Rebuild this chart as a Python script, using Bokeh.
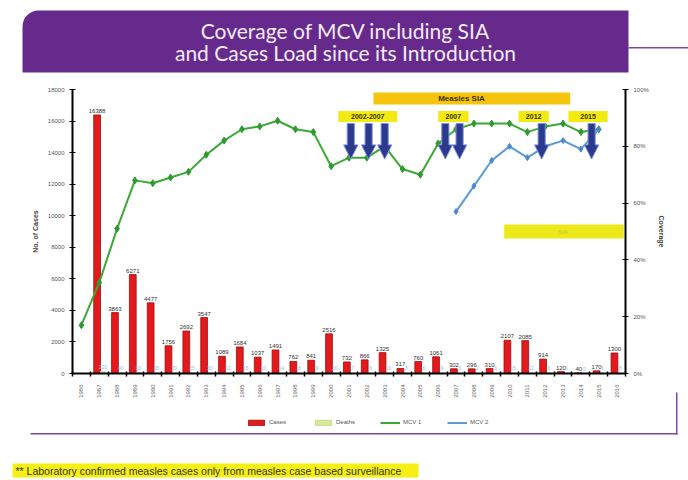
import math
from bokeh.plotting import figure
from bokeh.models import (ColumnDataSource, LinearAxis, Range1d, FixedTicker, Label,
                          BoxAnnotation, Legend, LegendItem, PrintfTickFormatter)
from bokeh.core.properties import value
from bokeh.embed import file_html
from bokeh.resources import INLINE

# ---------------- data ----------------
years = [str(y) for y in range(1986, 2017)]
cases = [None, 16388, 3863, 6271, 4477, 1756, 2692, 3547, 1089, 1684, 1037, 1491, 762, 841,
         2516, 732, 866, 1325, 317, 760, 1061, 302, 296, 310, 2107, 2085, 914, 120, 40, 170, 1300]
deaths = [None, 120, 40, 60, 45, 20, 25, 30, 12, 15, 10, 14, 8, 9, 20, 7, 8, 10, 3, 6, 9,
          3, 2, 3, 15, 12, 6, 1, 0, 1, 8]
mcv1 = [17, 32, 51, 68, 67, 69, 71, 77, 82, 86, 87, 89, 86, 85, 73, 76, 76, 80, 72, 70,
        81, 86, 88, 88, 88, 85, 87, 88, 85, 86, None]
mcv2 = [None] * 21 + [57, 66, 75, 80, 76, 80, 82, 79, 86, None]
cases_ticks = list(range(0, 18001, 2000))
cov_ticks = [0, 20, 40, 60, 80, 100]
CASES_MAX, COV_MAX = 18000, 100

# SIA campaign markers (arrows) and their labels
sia_arrow_years = [2001.1, 2002.1, 2003.0, 2006.4, 2007.2, 2011.8, 2014.6]
sia_labels = ["2002-2007", "2007", "2012", "2015"]
sia_label_from = [2000.4, 2006.0, 2010.5, 2013.3]
sia_label_to = [2003.7, 2007.7, 2012.2, 2015.5]

FONT = value("Liberation Sans")
base_year = int(years[0])
n = len(years)
idx = list(range(n))
nan = float("nan")


def clean(v):
    return [nan if a is None else a for a in v]


# ---------------- geometry (canvas px) ----------------
W, H = 688, 480
PL, PR, PT, PB = 72, 625, 89, 373      # chart plotting box inside the slide
xu = (PR - PL) / n                     # px per category
x_start = -0.5 - PL / xu
x_end = n - 0.5 + (W - PR) / xu
cpp = CASES_MAX / (PB - PT)            # cases per px
vpp = COV_MAX / (PB - PT)              # coverage per px

p = figure(width=W, height=H, output_backend="svg", toolbar_location=None,
           x_range=Range1d(x_start, x_end),
           y_range=Range1d(-(H - PB) * cpp, CASES_MAX + PT * cpp),
           min_border=0, min_border_left=0, min_border_right=0, min_border_top=0,
           min_border_bottom=0,
           background_fill_color="white", border_fill_color="white", outline_line_color=None)
p.extra_y_ranges = {"cov": Range1d(-(H - PB) * vpp, COV_MAX + PT * vpp)}
p.xgrid.visible = False
p.ygrid.visible = False


def sx(cx):
    return cx


def sy(cy):
    return H - cy


# ---- slide decorations ----
p.add_layout(BoxAnnotation(left=sx(22), right=sx(628), top=sy(10), bottom=sy(72),
                           left_units="screen", right_units="screen", top_units="screen",
                           bottom_units="screen", fill_color="#66298c", fill_alpha=1,
                           line_color=None, level="underlay", border_radius=(16, 0, 0, 0)))
p.add_layout(Label(x=sx(345), y=sy(30), x_units="screen", y_units="screen",
                   text="Coverage of MCV including SIA", text_font="Lato",
                   text_font_size="21px", text_color="#f3ecf6", text_align="center",
                   text_baseline="middle"))
p.add_layout(Label(x=sx(345), y=sy(52), x_units="screen", y_units="screen",
                   text="and Cases Load since its Introduction", text_font="Lato",
                   text_font_size="21px", text_color="#f3ecf6", text_align="center",
                   text_baseline="middle"))
p.add_layout(BoxAnnotation(left=sx(628), right=sx(688), top=sy(46.5), bottom=sy(48),
                           left_units="screen", right_units="screen", top_units="screen",
                           bottom_units="screen", fill_color="#7b4a9e", fill_alpha=1, line_color=None))
p.add_layout(BoxAnnotation(left=sx(30), right=sx(677), top=sy(432.5), bottom=sy(434),
                           left_units="screen", right_units="screen", top_units="screen",
                           bottom_units="screen", fill_color="#7b4a9e", fill_alpha=1, line_color=None))
p.add_layout(BoxAnnotation(left=sx(675.5), right=sx(677), top=sy(392), bottom=sy(434),
                           left_units="screen", right_units="screen", top_units="screen",
                           bottom_units="screen", fill_color="#7b4a9e", fill_alpha=1, line_color=None))
p.add_layout(BoxAnnotation(left=sx(12), right=sx(418), top=sy(463), bottom=sy(477),
                           left_units="screen", right_units="screen", top_units="screen",
                           bottom_units="screen", fill_color="#f5ef14", fill_alpha=1, line_color=None))
p.add_layout(Label(x=sx(15), y=sy(470), x_units="screen", y_units="screen",
                   text="** Laboratory confirmed measles cases only from measles case based surveillance",
                   text_font="Liberation Sans", text_font_size="10.5px", text_color="#333333",
                   text_baseline="middle"))

# ---- axes (pinned to the chart box) ----
xa = p.xaxis[0]
xa.fixed_location = 0
xa.bounds = (-0.5, n - 0.5)
xa.ticker = FixedTicker(ticks=idx, minor_ticks=[i - 0.5 for i in range(n + 1)])
xa.major_label_overrides = {i: y for i, y in zip(idx, years)}
xa.major_label_orientation = math.pi / 2
xa.major_label_text_font_size = "6px"
xa.major_label_text_color = "#666666"
xa.major_label_text_font = "Liberation Sans"
xa.axis_line_color = "black"
xa.axis_line_width = 2
xa.major_tick_line_color = None
xa.minor_tick_line_color = "black"
xa.minor_tick_line_width = 1.5
xa.minor_tick_in = 2
xa.minor_tick_out = 3

ya = p.yaxis[0]
ya.fixed_location = -0.5
ya.bounds = (0, CASES_MAX)
ya.ticker = FixedTicker(ticks=cases_ticks)
ya.axis_label = "No. of Cases"
ya.axis_label_text_font_size = "7px"
ya.axis_label_text_font_style = "bold"
ya.axis_label_text_font = "Liberation Sans"
ya.axis_label_standoff = 6
ya.major_label_text_font_size = "6px"
ya.major_label_text_font = "Liberation Sans"
ya.major_label_text_color = "#555555"
ya.axis_line_color = "black"
ya.axis_line_width = 2
ya.major_tick_in = 3
ya.major_tick_out = 3
ya.minor_tick_line_color = None

ra = LinearAxis(y_range_name="cov", ticker=FixedTicker(ticks=cov_ticks),
                formatter=PrintfTickFormatter(format="%d%%"),
                fixed_location=n - 0.5, bounds=(0, COV_MAX))
ra.axis_label = "Coverage"
ra.axis_label_text_font_size = "7px"
ra.axis_label_text_font_style = "bold"
ra.axis_label_text_font = "Liberation Sans"
ra.axis_label_standoff = 6
ra.major_label_text_font_size = "6px"
ra.major_label_text_font = "Liberation Sans"
ra.major_label_text_color = "#555555"
ra.axis_line_color = "black"
ra.axis_line_width = 2
ra.major_tick_in = 3
ra.major_tick_out = 3
ra.minor_tick_line_color = None
p.add_layout(ra, "right")

# ---- bars ----
bar_src = ColumnDataSource(dict(x=[i - 0.12 for i in idx], cases=clean(cases),
                                xd=[i + 0.2 for i in idx], deaths=clean(deaths)))
r_cases = p.vbar(x="x", top="cases", width=0.38, source=bar_src,
                 fill_color="#e3191c", line_color="#9e0e10", line_width=0.8)
r_deaths = p.vbar(x="xd", top="deaths", width=0.3, source=bar_src,
                  fill_color="#d6e99a", line_color="#b7cf6a", line_width=0.6)

lab_src = ColumnDataSource(dict(
    x=[i - 0.12 for i, c in zip(idx, cases) if c is not None],
    y=[c for c in cases if c is not None],
    t=[str(c) for c in cases if c is not None]))
p.text(x="x", y="y", text="t", source=lab_src, text_font=FONT, text_font_size="6px",
       text_color="#333333", text_align="center", text_baseline="bottom", y_offset=-2)

dl_src = ColumnDataSource(dict(
    x=[i + 0.2 for i, d in zip(idx, deaths) if d is not None],
    y=[d for d in deaths if d is not None],
    t=[str(d) for d in deaths if d is not None]))
p.text(x="x", y="y", text="t", source=dl_src, text_font=FONT, text_font_size="5px",
       text_color="#8fbde8", text_align="center", text_baseline="bottom", y_offset=-3)

# ---- coverage lines ----
cov_src = ColumnDataSource(dict(x=idx, m1=clean(mcv1), m2=clean(mcv2)))
r_m1 = p.line(x="x", y="m1", source=cov_src, y_range_name="cov", line_color="#3aa935", line_width=2)
p.scatter(x="x", y="m1", source=cov_src, y_range_name="cov", marker="diamond", size=7,
          fill_color="#2f9a2f", line_color="#2f9a2f")
r_m2 = p.line(x="x", y="m2", source=cov_src, y_range_name="cov", line_color="#5b9bd5", line_width=2)
p.scatter(x="x", y="m2", source=cov_src, y_range_name="cov", marker="diamond", size=6,
          fill_color="#4a8ad0", line_color="#4a8ad0")

# ---- SIA label boxes ----
p.add_layout(BoxAnnotation(left=16.37, right=27.4, bottom=94.7, top=98.9, y_range_name="cov",
                           fill_color="#f5c40f", fill_alpha=1, line_color=None))
p.add_layout(Label(x=20.0, y=96.8, y_range_name="cov", text="Measles  SIA", text_font_size="8px",
                   text_font_style="bold", text_font="Liberation Sans", text_color="#3a3000",
                   text_baseline="middle"))
for t, a, b in zip(sia_labels, sia_label_from, sia_label_to):
    x0, x1 = a - base_year, b - base_year
    p.add_layout(BoxAnnotation(left=x0, right=x1, bottom=88.6, top=92.4, y_range_name="cov",
                               fill_color="#f2ea12", fill_alpha=1, line_color=None))
    p.add_layout(Label(x=(x0 + x1) / 2, y=90.5, y_range_name="cov", text=t, text_font_size="7px",
                       text_font_style="bold", text_font="Liberation Sans", text_color="#3a3000",
                       text_align="center", text_baseline="middle"))
p.add_layout(BoxAnnotation(left=23.7, right=30.4, bottom=47.5, top=52.5, y_range_name="cov",
                           fill_color="#ece81a", fill_alpha=1, line_color=None))
p.add_layout(Label(x=27.0, y=50, y_range_name="cov", text="SIA", text_font_size="6px",
                   text_font="Liberation Sans", text_color="#c9c23a",
                   text_align="center", text_baseline="middle"))

# ---- arrows ----
axs, ays = [], []
for yr in sia_arrow_years:
    x = yr - base_year
    axs.append([x - 0.2, x + 0.2, x + 0.2, x + 0.4, x, x - 0.4, x - 0.2])
    ays.append([88, 88, 80.5, 80.5, 75.5, 80.5, 80.5])
p.patches(xs=axs, ys=ays, y_range_name="cov", fill_color="#2b3a8f", line_color="#7d8fd4", line_width=1)

# ---- legend ----
leg = Legend(items=[LegendItem(label="Cases", renderers=[r_cases]),
                    LegendItem(label="Deaths", renderers=[r_deaths]),
                    LegendItem(label="MCV 1", renderers=[r_m1]),
                    LegendItem(label="MCV 2", renderers=[r_m2])],
             orientation="horizontal", location=(246, sy(426)), label_text_font_size="6px",
             label_text_font="Liberation Sans", label_text_color="#555555",
             glyph_width=20, glyph_height=7, spacing=24, label_standoff=3,
             border_line_color=None, background_fill_alpha=0, margin=0, padding=2,
             label_height=8)
p.add_layout(leg)

open("out.html", "w").write(file_html(p, INLINE))
